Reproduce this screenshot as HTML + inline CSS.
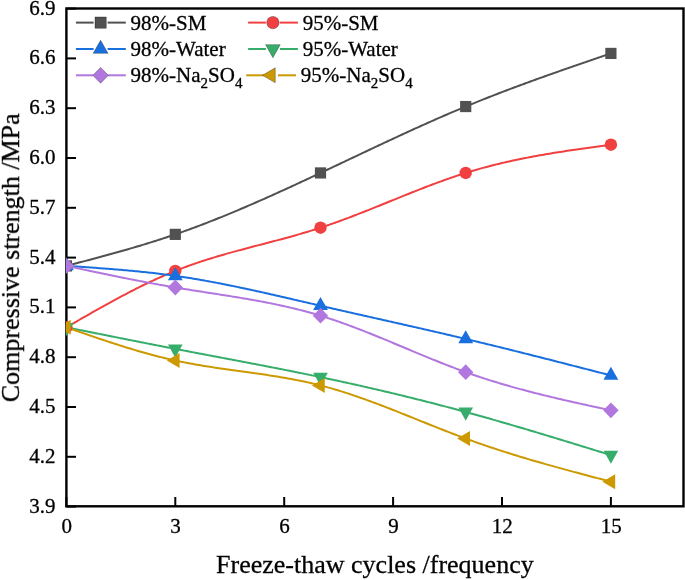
<!DOCTYPE html>
<html><head><meta charset="utf-8"><style>
html,body{margin:0;padding:0;background:#fff;width:685px;height:580px;overflow:hidden;font-family:"Liberation Serif",serif;}
svg{display:block}
</style></head><body>
<svg width="685" height="580" viewBox="0 0 685 580" style="will-change:transform">
<rect width="685" height="580" fill="#fff"/>
<defs><clipPath id="pc"><rect x="65.9" y="7.3" width="617.60" height="499.00"/></clipPath></defs>
<g stroke="#000" stroke-width="2">
<line x1="66.40" y1="506.60" x2="76.00" y2="506.60"/>
<line x1="66.40" y1="456.80" x2="76.00" y2="456.80"/>
<line x1="66.40" y1="407.00" x2="76.00" y2="407.00"/>
<line x1="66.40" y1="357.20" x2="76.00" y2="357.20"/>
<line x1="66.40" y1="307.40" x2="76.00" y2="307.40"/>
<line x1="66.40" y1="257.60" x2="76.00" y2="257.60"/>
<line x1="66.40" y1="207.80" x2="76.00" y2="207.80"/>
<line x1="66.40" y1="158.00" x2="76.00" y2="158.00"/>
<line x1="66.40" y1="108.20" x2="76.00" y2="108.20"/>
<line x1="66.40" y1="58.40" x2="76.00" y2="58.40"/>
<line x1="66.40" y1="8.60" x2="76.00" y2="8.60"/>
<line x1="66.40" y1="506.60" x2="66.40" y2="497.00"/>
<line x1="175.30" y1="506.60" x2="175.30" y2="497.00"/>
<line x1="284.20" y1="506.60" x2="284.20" y2="497.00"/>
<line x1="393.10" y1="506.60" x2="393.10" y2="497.00"/>
<line x1="502.00" y1="506.60" x2="502.00" y2="497.00"/>
<line x1="610.90" y1="506.60" x2="610.90" y2="497.00"/>
</g>
<rect x="66.4" y="8.5" width="617.10" height="497.80" fill="none" stroke="#000" stroke-width="2.4"/>
<g clip-path="url(#pc)">
<polyline points="66.40,265.90 68.22,265.42 70.03,264.95 71.84,264.47 73.66,264.00 75.48,263.52 77.29,263.04 79.11,262.56 80.92,262.09 82.74,261.61 84.55,261.13 86.37,260.65 88.18,260.16 90.00,259.68 91.81,259.20 93.62,258.71 95.44,258.23 97.26,257.74 99.07,257.25 100.89,256.76 102.70,256.27 104.52,255.78 106.33,255.28 108.15,254.79 109.96,254.29 111.78,253.79 113.59,253.28 115.41,252.78 117.22,252.27 119.04,251.76 120.85,251.25 122.67,250.73 124.48,250.22 126.30,249.70 128.11,249.18 129.93,248.65 131.74,248.12 133.56,247.59 135.37,247.06 137.19,246.52 139.00,245.98 140.81,245.43 142.63,244.89 144.44,244.34 146.26,243.78 148.07,243.22 149.89,242.66 151.70,242.10 153.52,241.53 155.34,240.95 157.15,240.38 158.97,239.79 160.78,239.21 162.60,238.62 164.41,238.02 166.22,237.43 168.04,236.82 169.86,236.21 171.67,235.60 173.49,234.98 175.30,234.36 177.12,233.73 178.93,233.10 180.75,232.46 182.56,231.82 184.38,231.17 186.19,230.52 188.00,229.87 189.82,229.20 191.63,228.54 193.45,227.87 195.27,227.19 197.08,226.52 198.90,225.83 200.71,225.14 202.53,224.45 204.34,223.76 206.16,223.06 207.97,222.35 209.78,221.65 211.60,220.93 213.41,220.22 215.23,219.50 217.05,218.77 218.86,218.05 220.67,217.31 222.49,216.58 224.31,215.84 226.12,215.10 227.94,214.35 229.75,213.61 231.56,212.85 233.38,212.10 235.19,211.34 237.01,210.58 238.82,209.81 240.64,209.04 242.46,208.27 244.27,207.50 246.09,206.72 247.90,205.94 249.72,205.16 251.53,204.37 253.34,203.58 255.16,202.79 256.98,202.00 258.79,201.20 260.61,200.40 262.42,199.60 264.24,198.79 266.05,197.99 267.87,197.18 269.68,196.37 271.50,195.55 273.31,194.74 275.12,193.92 276.94,193.10 278.75,192.28 280.57,191.45 282.38,190.63 284.20,189.80 286.01,188.97 287.83,188.14 289.64,187.31 291.46,186.47 293.27,185.64 295.09,184.80 296.90,183.96 298.72,183.12 300.53,182.28 302.35,181.43 304.17,180.59 305.98,179.74 307.79,178.90 309.61,178.05 311.42,177.20 313.24,176.35 315.06,175.50 316.87,174.65 318.69,173.79 320.50,172.94 322.31,172.09 324.13,171.23 325.95,170.37 327.76,169.52 329.57,168.66 331.39,167.80 333.21,166.95 335.02,166.09 336.84,165.23 338.65,164.37 340.47,163.51 342.28,162.65 344.10,161.79 345.91,160.93 347.73,160.07 349.54,159.21 351.36,158.35 353.17,157.50 354.99,156.64 356.80,155.78 358.62,154.92 360.43,154.06 362.25,153.20 364.06,152.34 365.88,151.49 367.69,150.63 369.50,149.77 371.32,148.92 373.13,148.06 374.95,147.21 376.76,146.36 378.58,145.50 380.39,144.65 382.21,143.80 384.02,142.95 385.84,142.10 387.65,141.26 389.47,140.41 391.28,139.56 393.10,138.72 394.91,137.88 396.73,137.04 398.54,136.20 400.36,135.36 402.17,134.52 403.99,133.68 405.80,132.85 407.62,132.02 409.44,131.19 411.25,130.36 413.07,129.53 414.88,128.70 416.69,127.88 418.51,127.06 420.32,126.24 422.14,125.42 423.96,124.61 425.77,123.79 427.59,122.98 429.40,122.17 431.22,121.37 433.03,120.56 434.85,119.76 436.66,118.96 438.48,118.16 440.29,117.37 442.11,116.58 443.92,115.79 445.74,115.00 447.55,114.22 449.37,113.44 451.18,112.66 453.00,111.88 454.81,111.11 456.62,110.34 458.44,109.57 460.25,108.81 462.07,108.05 463.88,107.29 465.70,106.54 467.51,105.79 469.33,105.04 471.14,104.30 472.96,103.56 474.77,102.82 476.59,102.09 478.40,101.35 480.22,100.63 482.03,99.90 483.85,99.18 485.66,98.46 487.48,97.74 489.29,97.03 491.11,96.32 492.92,95.61 494.74,94.90 496.56,94.20 498.37,93.50 500.19,92.80 502.00,92.11 503.81,91.41 505.63,90.72 507.44,90.03 509.26,89.35 511.07,88.66 512.89,87.98 514.71,87.30 516.52,86.63 518.34,85.95 520.15,85.28 521.97,84.61 523.78,83.94 525.60,83.27 527.41,82.61 529.23,81.95 531.04,81.29 532.86,80.63 534.67,79.97 536.49,79.31 538.30,78.66 540.12,78.01 541.93,77.36 543.75,76.71 545.56,76.06 547.38,75.41 549.19,74.77 551.00,74.13 552.82,73.49 554.63,72.84 556.45,72.21 558.26,71.57 560.08,70.93 561.89,70.30 563.71,69.66 565.52,69.03 567.34,68.40 569.15,67.76 570.97,67.13 572.78,66.50 574.60,65.88 576.41,65.25 578.23,64.62 580.04,63.99 581.86,63.37 583.67,62.74 585.49,62.12 587.30,61.50 589.12,60.87 590.93,60.25 592.75,59.63 594.56,59.01 596.38,58.38 598.19,57.76 600.01,57.14 601.82,56.52 603.64,55.90 605.46,55.28 607.27,54.66 609.08,54.04 610.90,53.42" fill="none" stroke="#515151" stroke-width="2.0" stroke-linejoin="round"/>
<polyline points="66.40,327.32 68.22,326.27 70.03,325.22 71.84,324.18 73.66,323.13 75.48,322.08 77.29,321.04 79.11,320.00 80.92,318.95 82.74,317.91 84.55,316.87 86.37,315.83 88.18,314.80 90.00,313.76 91.81,312.73 93.62,311.70 95.44,310.68 97.26,309.65 99.07,308.63 100.89,307.62 102.70,306.60 104.52,305.59 106.33,304.58 108.15,303.58 109.96,302.58 111.78,301.59 113.59,300.60 115.41,299.61 117.22,298.63 119.04,297.66 120.85,296.69 122.67,295.72 124.48,294.76 126.30,293.81 128.11,292.86 129.93,291.92 131.74,290.99 133.56,290.06 135.37,289.14 137.19,288.22 139.00,287.31 140.81,286.41 142.63,285.52 144.44,284.63 146.26,283.75 148.07,282.88 149.89,282.02 151.70,281.16 153.52,280.32 155.34,279.48 157.15,278.65 158.97,277.83 160.78,277.02 162.60,276.22 164.41,275.42 166.22,274.64 168.04,273.87 169.86,273.11 171.67,272.35 173.49,271.61 175.30,270.88 177.12,270.16 178.93,269.45 180.75,268.75 182.56,268.06 184.38,267.38 186.19,266.71 188.00,266.05 189.82,265.39 191.63,264.75 193.45,264.11 195.27,263.49 197.08,262.87 198.90,262.26 200.71,261.66 202.53,261.06 204.34,260.48 206.16,259.90 207.97,259.32 209.78,258.76 211.60,258.19 213.41,257.64 215.23,257.09 217.05,256.55 218.86,256.01 220.67,255.48 222.49,254.95 224.31,254.43 226.12,253.91 227.94,253.40 229.75,252.89 231.56,252.39 233.38,251.89 235.19,251.39 237.01,250.89 238.82,250.40 240.64,249.91 242.46,249.43 244.27,248.94 246.09,248.46 247.90,247.98 249.72,247.50 251.53,247.03 253.34,246.55 255.16,246.08 256.98,245.60 258.79,245.13 260.61,244.66 262.42,244.18 264.24,243.71 266.05,243.24 267.87,242.76 269.68,242.29 271.50,241.81 273.31,241.33 275.12,240.85 276.94,240.37 278.75,239.89 280.57,239.41 282.38,238.92 284.20,238.43 286.01,237.94 287.83,237.44 289.64,236.94 291.46,236.44 293.27,235.93 295.09,235.42 296.90,234.90 298.72,234.39 300.53,233.86 302.35,233.33 304.17,232.80 305.98,232.26 307.79,231.71 309.61,231.16 311.42,230.60 313.24,230.04 315.06,229.47 316.87,228.89 318.69,228.31 320.50,227.72 322.31,227.12 324.13,226.52 325.95,225.90 327.76,225.28 329.57,224.66 331.39,224.03 333.21,223.39 335.02,222.74 336.84,222.09 338.65,221.44 340.47,220.77 342.28,220.11 344.10,219.43 345.91,218.76 347.73,218.08 349.54,217.39 351.36,216.70 353.17,216.00 354.99,215.31 356.80,214.60 358.62,213.90 360.43,213.19 362.25,212.48 364.06,211.76 365.88,211.04 367.69,210.32 369.50,209.60 371.32,208.87 373.13,208.14 374.95,207.42 376.76,206.68 378.58,205.95 380.39,205.22 382.21,204.48 384.02,203.75 385.84,203.01 387.65,202.28 389.47,201.54 391.28,200.80 393.10,200.07 394.91,199.33 396.73,198.59 398.54,197.86 400.36,197.13 402.17,196.39 403.99,195.66 405.80,194.93 407.62,194.20 409.44,193.48 411.25,192.75 413.07,192.03 414.88,191.31 416.69,190.59 418.51,189.88 420.32,189.17 422.14,188.46 423.96,187.75 425.77,187.05 427.59,186.36 429.40,185.66 431.22,184.97 433.03,184.29 434.85,183.61 436.66,182.93 438.48,182.26 440.29,181.60 442.11,180.94 443.92,180.28 445.74,179.64 447.55,178.99 449.37,178.36 451.18,177.73 453.00,177.10 454.81,176.49 456.62,175.88 458.44,175.28 460.25,174.68 462.07,174.09 463.88,173.51 465.70,172.94 467.51,172.38 469.33,171.82 471.14,171.27 472.96,170.73 474.77,170.20 476.59,169.67 478.40,169.15 480.22,168.64 482.03,168.14 483.85,167.64 485.66,167.16 487.48,166.67 489.29,166.20 491.11,165.73 492.92,165.27 494.74,164.81 496.56,164.36 498.37,163.92 500.19,163.49 502.00,163.06 503.81,162.63 505.63,162.22 507.44,161.80 509.26,161.40 511.07,161.00 512.89,160.60 514.71,160.21 516.52,159.83 518.34,159.45 520.15,159.07 521.97,158.71 523.78,158.34 525.60,157.98 527.41,157.63 529.23,157.28 531.04,156.93 532.86,156.59 534.67,156.26 536.49,155.93 538.30,155.60 540.12,155.27 541.93,154.95 543.75,154.64 545.56,154.33 547.38,154.02 549.19,153.71 551.00,153.41 552.82,153.11 554.63,152.82 556.45,152.52 558.26,152.24 560.08,151.95 561.89,151.67 563.71,151.39 565.52,151.11 567.34,150.83 569.15,150.56 570.97,150.29 572.78,150.02 574.60,149.75 576.41,149.49 578.23,149.23 580.04,148.97 581.86,148.71 583.67,148.45 585.49,148.20 587.30,147.94 589.12,147.69 590.93,147.44 592.75,147.19 594.56,146.94 596.38,146.69 598.19,146.44 600.01,146.19 601.82,145.95 603.64,145.70 605.46,145.46 607.27,145.21 609.08,144.97 610.90,144.72" fill="none" stroke="#F14040" stroke-width="2.0" stroke-linejoin="round"/>
<polyline points="66.40,265.90 68.22,266.02 70.03,266.14 71.84,266.26 73.66,266.38 75.48,266.50 77.29,266.62 79.11,266.74 80.92,266.86 82.74,266.99 84.55,267.11 86.37,267.23 88.18,267.36 90.00,267.49 91.81,267.61 93.62,267.74 95.44,267.87 97.26,268.00 99.07,268.13 100.89,268.26 102.70,268.40 104.52,268.53 106.33,268.67 108.15,268.81 109.96,268.95 111.78,269.10 113.59,269.24 115.41,269.39 117.22,269.54 119.04,269.69 120.85,269.84 122.67,270.00 124.48,270.15 126.30,270.31 128.11,270.48 129.93,270.64 131.74,270.81 133.56,270.98 135.37,271.16 137.19,271.33 139.00,271.51 140.81,271.70 142.63,271.88 144.44,272.07 146.26,272.26 148.07,272.46 149.89,272.66 151.70,272.86 153.52,273.07 155.34,273.28 157.15,273.49 158.97,273.71 160.78,273.93 162.60,274.16 164.41,274.39 166.22,274.62 168.04,274.86 169.86,275.11 171.67,275.35 173.49,275.60 175.30,275.86 177.12,276.12 178.93,276.39 180.75,276.66 182.56,276.93 184.38,277.21 186.19,277.49 188.00,277.78 189.82,278.07 191.63,278.36 193.45,278.66 195.27,278.97 197.08,279.27 198.90,279.59 200.71,279.90 202.53,280.22 204.34,280.54 206.16,280.87 207.97,281.20 209.78,281.53 211.60,281.87 213.41,282.20 215.23,282.55 217.05,282.89 218.86,283.24 220.67,283.59 222.49,283.95 224.31,284.31 226.12,284.67 227.94,285.03 229.75,285.40 231.56,285.77 233.38,286.14 235.19,286.51 237.01,286.89 238.82,287.27 240.64,287.65 242.46,288.03 244.27,288.42 246.09,288.81 247.90,289.20 249.72,289.59 251.53,289.98 253.34,290.38 255.16,290.77 256.98,291.17 258.79,291.57 260.61,291.98 262.42,292.38 264.24,292.79 266.05,293.19 267.87,293.60 269.68,294.01 271.50,294.42 273.31,294.84 275.12,295.25 276.94,295.66 278.75,296.08 280.57,296.49 282.38,296.91 284.20,297.33 286.01,297.75 287.83,298.17 289.64,298.58 291.46,299.00 293.27,299.43 295.09,299.85 296.90,300.27 298.72,300.69 300.53,301.11 302.35,301.53 304.17,301.95 305.98,302.38 307.79,302.80 309.61,303.22 311.42,303.64 313.24,304.06 315.06,304.48 316.87,304.90 318.69,305.32 320.50,305.74 322.31,306.16 324.13,306.58 325.95,306.99 327.76,307.41 329.57,307.83 331.39,308.24 333.21,308.66 335.02,309.07 336.84,309.49 338.65,309.90 340.47,310.31 342.28,310.73 344.10,311.14 345.91,311.55 347.73,311.96 349.54,312.38 351.36,312.79 353.17,313.20 354.99,313.61 356.80,314.02 358.62,314.43 360.43,314.84 362.25,315.25 364.06,315.66 365.88,316.07 367.69,316.48 369.50,316.89 371.32,317.30 373.13,317.71 374.95,318.12 376.76,318.53 378.58,318.94 380.39,319.35 382.21,319.75 384.02,320.16 385.84,320.57 387.65,320.98 389.47,321.39 391.28,321.80 393.10,322.21 394.91,322.62 396.73,323.03 398.54,323.44 400.36,323.85 402.17,324.26 403.99,324.67 405.80,325.09 407.62,325.50 409.44,325.91 411.25,326.32 413.07,326.73 414.88,327.15 416.69,327.56 418.51,327.97 420.32,328.39 422.14,328.80 423.96,329.22 425.77,329.63 427.59,330.05 429.40,330.47 431.22,330.88 433.03,331.30 434.85,331.72 436.66,332.14 438.48,332.56 440.29,332.98 442.11,333.40 443.92,333.82 445.74,334.24 447.55,334.67 449.37,335.09 451.18,335.51 453.00,335.94 454.81,336.37 456.62,336.79 458.44,337.22 460.25,337.65 462.07,338.08 463.88,338.51 465.70,338.94 467.51,339.37 469.33,339.81 471.14,340.24 472.96,340.67 474.77,341.11 476.59,341.55 478.40,341.98 480.22,342.42 482.03,342.86 483.85,343.30 485.66,343.74 487.48,344.18 489.29,344.63 491.11,345.07 492.92,345.51 494.74,345.96 496.56,346.40 498.37,346.85 500.19,347.30 502.00,347.74 503.81,348.19 505.63,348.64 507.44,349.09 509.26,349.54 511.07,349.99 512.89,350.44 514.71,350.90 516.52,351.35 518.34,351.80 520.15,352.26 521.97,352.71 523.78,353.17 525.60,353.62 527.41,354.08 529.23,354.54 531.04,354.99 532.86,355.45 534.67,355.91 536.49,356.37 538.30,356.83 540.12,357.29 541.93,357.75 543.75,358.21 545.56,358.67 547.38,359.13 549.19,359.59 551.00,360.06 552.82,360.52 554.63,360.98 556.45,361.45 558.26,361.91 560.08,362.37 561.89,362.84 563.71,363.30 565.52,363.77 567.34,364.23 569.15,364.70 570.97,365.16 572.78,365.63 574.60,366.10 576.41,366.56 578.23,367.03 580.04,367.50 581.86,367.97 583.67,368.43 585.49,368.90 587.30,369.37 589.12,369.84 590.93,370.30 592.75,370.77 594.56,371.24 596.38,371.71 598.19,372.18 600.01,372.65 601.82,373.12 603.64,373.58 605.46,374.05 607.27,374.52 609.08,374.99 610.90,375.46" fill="none" stroke="#1A6FDF" stroke-width="2.0" stroke-linejoin="round"/>
<polyline points="66.40,327.32 68.22,327.68 70.03,328.05 71.84,328.41 73.66,328.78 75.48,329.14 77.29,329.51 79.11,329.87 80.92,330.24 82.74,330.60 84.55,330.97 86.37,331.33 88.18,331.70 90.00,332.06 91.81,332.42 93.62,332.79 95.44,333.15 97.26,333.51 99.07,333.88 100.89,334.24 102.70,334.60 104.52,334.97 106.33,335.33 108.15,335.69 109.96,336.06 111.78,336.42 113.59,336.78 115.41,337.14 117.22,337.50 119.04,337.86 120.85,338.23 122.67,338.59 124.48,338.95 126.30,339.31 128.11,339.67 129.93,340.03 131.74,340.39 133.56,340.75 135.37,341.10 137.19,341.46 139.00,341.82 140.81,342.18 142.63,342.54 144.44,342.89 146.26,343.25 148.07,343.61 149.89,343.96 151.70,344.32 153.52,344.67 155.34,345.03 157.15,345.38 158.97,345.74 160.78,346.09 162.60,346.44 164.41,346.79 166.22,347.15 168.04,347.50 169.86,347.85 171.67,348.20 173.49,348.55 175.30,348.90 177.12,349.25 178.93,349.60 180.75,349.95 182.56,350.29 184.38,350.64 186.19,350.99 188.00,351.33 189.82,351.68 191.63,352.03 193.45,352.37 195.27,352.72 197.08,353.06 198.90,353.41 200.71,353.75 202.53,354.10 204.34,354.44 206.16,354.78 207.97,355.13 209.78,355.47 211.60,355.82 213.41,356.16 215.23,356.50 217.05,356.85 218.86,357.19 220.67,357.53 222.49,357.88 224.31,358.22 226.12,358.56 227.94,358.91 229.75,359.25 231.56,359.60 233.38,359.94 235.19,360.28 237.01,360.63 238.82,360.97 240.64,361.32 242.46,361.67 244.27,362.01 246.09,362.36 247.90,362.70 249.72,363.05 251.53,363.40 253.34,363.75 255.16,364.09 256.98,364.44 258.79,364.79 260.61,365.14 262.42,365.49 264.24,365.84 266.05,366.19 267.87,366.55 269.68,366.90 271.50,367.25 273.31,367.61 275.12,367.96 276.94,368.32 278.75,368.67 280.57,369.03 282.38,369.39 284.20,369.75 286.01,370.11 287.83,370.47 289.64,370.83 291.46,371.19 293.27,371.55 295.09,371.92 296.90,372.28 298.72,372.65 300.53,373.01 302.35,373.38 304.17,373.75 305.98,374.12 307.79,374.49 309.61,374.86 311.42,375.24 313.24,375.61 315.06,375.99 316.87,376.36 318.69,376.74 320.50,377.12 322.31,377.50 324.13,377.88 325.95,378.27 327.76,378.65 329.57,379.04 331.39,379.42 333.21,379.81 335.02,380.20 336.84,380.59 338.65,380.98 340.47,381.38 342.28,381.77 344.10,382.17 345.91,382.57 347.73,382.97 349.54,383.37 351.36,383.77 353.17,384.17 354.99,384.58 356.80,384.98 358.62,385.39 360.43,385.80 362.25,386.21 364.06,386.62 365.88,387.03 367.69,387.44 369.50,387.86 371.32,388.28 373.13,388.69 374.95,389.11 376.76,389.54 378.58,389.96 380.39,390.38 382.21,390.81 384.02,391.23 385.84,391.66 387.65,392.09 389.47,392.52 391.28,392.95 393.10,393.39 394.91,393.82 396.73,394.26 398.54,394.70 400.36,395.14 402.17,395.58 403.99,396.02 405.80,396.47 407.62,396.91 409.44,397.36 411.25,397.81 413.07,398.26 414.88,398.71 416.69,399.16 418.51,399.62 420.32,400.07 422.14,400.53 423.96,400.99 425.77,401.45 427.59,401.91 429.40,402.38 431.22,402.84 433.03,403.31 434.85,403.78 436.66,404.25 438.48,404.72 440.29,405.19 442.11,405.67 443.92,406.14 445.74,406.62 447.55,407.10 449.37,407.58 451.18,408.06 453.00,408.55 454.81,409.03 456.62,409.52 458.44,410.01 460.25,410.50 462.07,410.99 463.88,411.48 465.70,411.98 467.51,412.48 469.33,412.98 471.14,413.48 472.96,413.98 474.77,414.48 476.59,414.99 478.40,415.49 480.22,416.00 482.03,416.51 483.85,417.02 485.66,417.53 487.48,418.04 489.29,418.56 491.11,419.08 492.92,419.59 494.74,420.11 496.56,420.63 498.37,421.15 500.19,421.68 502.00,422.20 503.81,422.73 505.63,423.25 507.44,423.78 509.26,424.31 511.07,424.84 512.89,425.37 514.71,425.90 516.52,426.44 518.34,426.97 520.15,427.50 521.97,428.04 523.78,428.58 525.60,429.12 527.41,429.66 529.23,430.20 531.04,430.74 532.86,431.28 534.67,431.82 536.49,432.37 538.30,432.91 540.12,433.46 541.93,434.00 543.75,434.55 545.56,435.10 547.38,435.64 549.19,436.19 551.00,436.74 552.82,437.29 554.63,437.84 556.45,438.40 558.26,438.95 560.08,439.50 561.89,440.05 563.71,440.61 565.52,441.16 567.34,441.72 569.15,442.27 570.97,442.83 572.78,443.39 574.60,443.94 576.41,444.50 578.23,445.06 580.04,445.62 581.86,446.18 583.67,446.73 585.49,447.29 587.30,447.85 589.12,448.41 590.93,448.97 592.75,449.53 594.56,450.09 596.38,450.65 598.19,451.21 600.01,451.77 601.82,452.33 603.64,452.90 605.46,453.46 607.27,454.02 609.08,454.58 610.90,455.14" fill="none" stroke="#37AD6B" stroke-width="2.0" stroke-linejoin="round"/>
<polyline points="66.40,265.90 68.22,266.29 70.03,266.67 71.84,267.06 73.66,267.45 75.48,267.83 77.29,268.22 79.11,268.60 80.92,268.99 82.74,269.37 84.55,269.76 86.37,270.14 88.18,270.53 90.00,270.91 91.81,271.29 93.62,271.67 95.44,272.06 97.26,272.44 99.07,272.82 100.89,273.19 102.70,273.57 104.52,273.95 106.33,274.33 108.15,274.70 109.96,275.08 111.78,275.45 113.59,275.82 115.41,276.19 117.22,276.56 119.04,276.93 120.85,277.30 122.67,277.66 124.48,278.03 126.30,278.39 128.11,278.75 129.93,279.11 131.74,279.47 133.56,279.83 135.37,280.18 137.19,280.53 139.00,280.89 140.81,281.24 142.63,281.58 144.44,281.93 146.26,282.27 148.07,282.62 149.89,282.96 151.70,283.29 153.52,283.63 155.34,283.96 157.15,284.30 158.97,284.62 160.78,284.95 162.60,285.28 164.41,285.60 166.22,285.92 168.04,286.24 169.86,286.55 171.67,286.86 173.49,287.17 175.30,287.48 177.12,287.78 178.93,288.09 180.75,288.39 182.56,288.68 184.38,288.98 186.19,289.27 188.00,289.56 189.82,289.85 191.63,290.14 193.45,290.43 195.27,290.71 197.08,291.00 198.90,291.28 200.71,291.56 202.53,291.84 204.34,292.13 206.16,292.41 207.97,292.69 209.78,292.97 211.60,293.25 213.41,293.53 215.23,293.81 217.05,294.09 218.86,294.38 220.67,294.66 222.49,294.94 224.31,295.23 226.12,295.52 227.94,295.80 229.75,296.09 231.56,296.38 233.38,296.68 235.19,296.97 237.01,297.27 238.82,297.57 240.64,297.87 242.46,298.17 244.27,298.48 246.09,298.79 247.90,299.10 249.72,299.42 251.53,299.74 253.34,300.06 255.16,300.38 256.98,300.71 258.79,301.05 260.61,301.38 262.42,301.73 264.24,302.07 266.05,302.42 267.87,302.78 269.68,303.14 271.50,303.50 273.31,303.87 275.12,304.24 276.94,304.62 278.75,305.01 280.57,305.40 282.38,305.80 284.20,306.20 286.01,306.61 287.83,307.02 289.64,307.44 291.46,307.87 293.27,308.30 295.09,308.74 296.90,309.19 298.72,309.65 300.53,310.11 302.35,310.58 304.17,311.05 305.98,311.54 307.79,312.03 309.61,312.53 311.42,313.04 313.24,313.55 315.06,314.08 316.87,314.61 318.69,315.15 320.50,315.70 322.31,316.26 324.13,316.83 325.95,317.40 327.76,317.99 329.57,318.58 331.39,319.18 333.21,319.79 335.02,320.41 336.84,321.03 338.65,321.66 340.47,322.30 342.28,322.94 344.10,323.59 345.91,324.25 347.73,324.91 349.54,325.58 351.36,326.26 353.17,326.94 354.99,327.63 356.80,328.32 358.62,329.01 360.43,329.72 362.25,330.42 364.06,331.13 365.88,331.85 367.69,332.57 369.50,333.29 371.32,334.02 373.13,334.75 374.95,335.48 376.76,336.22 378.58,336.96 380.39,337.70 382.21,338.44 384.02,339.19 385.84,339.94 387.65,340.69 389.47,341.45 391.28,342.20 393.10,342.96 394.91,343.71 396.73,344.47 398.54,345.23 400.36,345.99 402.17,346.75 403.99,347.51 405.80,348.27 407.62,349.03 409.44,349.79 411.25,350.55 413.07,351.31 414.88,352.07 416.69,352.83 418.51,353.58 420.32,354.34 422.14,355.09 423.96,355.84 425.77,356.59 427.59,357.34 429.40,358.08 431.22,358.82 433.03,359.56 434.85,360.29 436.66,361.03 438.48,361.75 440.29,362.48 442.11,363.20 443.92,363.92 445.74,364.63 447.55,365.34 449.37,366.04 451.18,366.74 453.00,367.44 454.81,368.12 456.62,368.81 458.44,369.49 460.25,370.16 462.07,370.83 463.88,371.49 465.70,372.14 467.51,372.79 469.33,373.43 471.14,374.06 472.96,374.69 474.77,375.31 476.59,375.93 478.40,376.54 480.22,377.15 482.03,377.74 483.85,378.34 485.66,378.92 487.48,379.50 489.29,380.08 491.11,380.65 492.92,381.22 494.74,381.78 496.56,382.33 498.37,382.88 500.19,383.42 502.00,383.96 503.81,384.50 505.63,385.03 507.44,385.55 509.26,386.07 511.07,386.59 512.89,387.10 514.71,387.61 516.52,388.11 518.34,388.61 520.15,389.10 521.97,389.59 523.78,390.08 525.60,390.56 527.41,391.04 529.23,391.51 531.04,391.98 532.86,392.45 534.67,392.92 536.49,393.38 538.30,393.83 540.12,394.29 541.93,394.74 543.75,395.19 545.56,395.63 547.38,396.07 549.19,396.51 551.00,396.95 552.82,397.38 554.63,397.81 556.45,398.24 558.26,398.67 560.08,399.09 561.89,399.51 563.71,399.93 565.52,400.35 567.34,400.76 569.15,401.17 570.97,401.59 572.78,401.99 574.60,402.40 576.41,402.81 578.23,403.21 580.04,403.62 581.86,404.02 583.67,404.42 585.49,404.82 587.30,405.21 589.12,405.61 590.93,406.01 592.75,406.40 594.56,406.80 596.38,407.19 598.19,407.58 600.01,407.97 601.82,408.37 603.64,408.76 605.46,409.15 607.27,409.54 609.08,409.93 610.90,410.32" fill="none" stroke="#B177DE" stroke-width="2.0" stroke-linejoin="round"/>
<polyline points="66.40,327.32 68.22,327.95 70.03,328.59 71.84,329.22 73.66,329.85 75.48,330.48 77.29,331.11 79.11,331.75 80.92,332.37 82.74,333.00 84.55,333.63 86.37,334.26 88.18,334.88 90.00,335.50 91.81,336.12 93.62,336.74 95.44,337.36 97.26,337.98 99.07,338.59 100.89,339.20 102.70,339.81 104.52,340.41 106.33,341.01 108.15,341.61 109.96,342.21 111.78,342.80 113.59,343.39 115.41,343.98 117.22,344.56 119.04,345.14 120.85,345.72 122.67,346.29 124.48,346.86 126.30,347.42 128.11,347.98 129.93,348.53 131.74,349.08 133.56,349.63 135.37,350.16 137.19,350.70 139.00,351.23 140.81,351.75 142.63,352.27 144.44,352.78 146.26,353.29 148.07,353.79 149.89,354.29 151.70,354.78 153.52,355.26 155.34,355.74 157.15,356.21 158.97,356.67 160.78,357.13 162.60,357.58 164.41,358.02 166.22,358.46 168.04,358.88 169.86,359.30 171.67,359.72 173.49,360.12 175.30,360.52 177.12,360.91 178.93,361.29 180.75,361.67 182.56,362.03 184.38,362.39 186.19,362.75 188.00,363.09 189.82,363.43 191.63,363.77 193.45,364.09 195.27,364.41 197.08,364.73 198.90,365.04 200.71,365.35 202.53,365.65 204.34,365.95 206.16,366.24 207.97,366.53 209.78,366.81 211.60,367.09 213.41,367.37 215.23,367.64 217.05,367.91 218.86,368.18 220.67,368.44 222.49,368.70 224.31,368.96 226.12,369.22 227.94,369.48 229.75,369.73 231.56,369.99 233.38,370.24 235.19,370.49 237.01,370.74 238.82,370.99 240.64,371.24 242.46,371.49 244.27,371.74 246.09,371.99 247.90,372.24 249.72,372.50 251.53,372.75 253.34,373.00 255.16,373.26 256.98,373.52 258.79,373.78 260.61,374.04 262.42,374.31 264.24,374.57 266.05,374.84 267.87,375.12 269.68,375.40 271.50,375.68 273.31,375.96 275.12,376.25 276.94,376.54 278.75,376.84 280.57,377.14 282.38,377.45 284.20,377.76 286.01,378.08 287.83,378.40 289.64,378.73 291.46,379.06 293.27,379.40 295.09,379.75 296.90,380.11 298.72,380.47 300.53,380.84 302.35,381.21 304.17,381.59 305.98,381.98 307.79,382.38 309.61,382.79 311.42,383.21 313.24,383.63 315.06,384.06 316.87,384.51 318.69,384.96 320.50,385.42 322.31,385.89 324.13,386.37 325.95,386.86 327.76,387.36 329.57,387.87 331.39,388.39 333.21,388.91 335.02,389.45 336.84,389.99 338.65,390.54 340.47,391.10 342.28,391.67 344.10,392.24 345.91,392.83 347.73,393.41 349.54,394.01 351.36,394.61 353.17,395.22 354.99,395.84 356.80,396.46 358.62,397.09 360.43,397.73 362.25,398.37 364.06,399.01 365.88,399.67 367.69,400.32 369.50,400.99 371.32,401.65 373.13,402.32 374.95,403.00 376.76,403.68 378.58,404.37 380.39,405.05 382.21,405.75 384.02,406.44 385.84,407.14 387.65,407.85 389.47,408.55 391.28,409.26 393.10,409.97 394.91,410.69 396.73,411.40 398.54,412.12 400.36,412.84 402.17,413.56 403.99,414.29 405.80,415.01 407.62,415.74 409.44,416.46 411.25,417.19 413.07,417.92 414.88,418.65 416.69,419.38 418.51,420.11 420.32,420.84 422.14,421.57 423.96,422.30 425.77,423.03 427.59,423.76 429.40,424.48 431.22,425.21 433.03,425.93 434.85,426.66 436.66,427.38 438.48,428.10 440.29,428.81 442.11,429.53 443.92,430.24 445.74,430.95 447.55,431.66 449.37,432.36 451.18,433.07 453.00,433.76 454.81,434.46 456.62,435.15 458.44,435.84 460.25,436.52 462.07,437.20 463.88,437.87 465.70,438.54 467.51,439.20 469.33,439.86 471.14,440.52 472.96,441.17 474.77,441.82 476.59,442.46 478.40,443.10 480.22,443.73 482.03,444.36 483.85,444.98 485.66,445.60 487.48,446.22 489.29,446.83 491.11,447.44 492.92,448.04 494.74,448.64 496.56,449.24 498.37,449.83 500.19,450.42 502.00,451.01 503.81,451.59 505.63,452.16 507.44,452.74 509.26,453.31 511.07,453.88 512.89,454.44 514.71,455.00 516.52,455.56 518.34,456.12 520.15,456.67 521.97,457.22 523.78,457.76 525.60,458.31 527.41,458.85 529.23,459.39 531.04,459.92 532.86,460.45 534.67,460.98 536.49,461.51 538.30,462.03 540.12,462.56 541.93,463.08 543.75,463.59 545.56,464.11 547.38,464.62 549.19,465.13 551.00,465.64 552.82,466.15 554.63,466.66 556.45,467.16 558.26,467.66 560.08,468.16 561.89,468.66 563.71,469.16 565.52,469.65 567.34,470.15 569.15,470.64 570.97,471.13 572.78,471.62 574.60,472.11 576.41,472.59 578.23,473.08 580.04,473.56 581.86,474.05 583.67,474.53 585.49,475.01 587.30,475.49 589.12,475.97 590.93,476.45 592.75,476.93 594.56,477.41 596.38,477.89 598.19,478.37 600.01,478.84 601.82,479.32 603.64,479.80 605.46,480.27 607.27,480.75 609.08,481.22 610.90,481.70" fill="none" stroke="#CC9900" stroke-width="2.0" stroke-linejoin="round"/>
<rect x="60.80" y="260.30" width="11.2" height="11.2" fill="#515151"/>
<rect x="169.70" y="228.76" width="11.2" height="11.2" fill="#515151"/>
<rect x="314.90" y="167.34" width="11.2" height="11.2" fill="#515151"/>
<rect x="460.10" y="100.94" width="11.2" height="11.2" fill="#515151"/>
<rect x="605.30" y="47.82" width="11.2" height="11.2" fill="#515151"/>
<circle cx="66.40" cy="327.32" r="6.2" fill="#F14040"/>
<circle cx="175.30" cy="270.88" r="6.2" fill="#F14040"/>
<circle cx="320.50" cy="227.72" r="6.2" fill="#F14040"/>
<circle cx="465.70" cy="172.94" r="6.2" fill="#F14040"/>
<circle cx="610.90" cy="144.72" r="6.2" fill="#F14040"/>
<path d="M66.40 257.17L73.80 270.27L59.00 270.27Z" fill="#1A6FDF"/>
<path d="M175.30 267.13L182.70 280.23L167.90 280.23Z" fill="#1A6FDF"/>
<path d="M320.50 297.01L327.90 310.11L313.10 310.11Z" fill="#1A6FDF"/>
<path d="M465.70 330.21L473.10 343.31L458.30 343.31Z" fill="#1A6FDF"/>
<path d="M610.90 366.73L618.30 379.83L603.50 379.83Z" fill="#1A6FDF"/>
<path d="M66.40 336.05L73.70 322.95L59.10 322.95Z" fill="#37AD6B"/>
<path d="M175.30 357.63L182.60 344.53L168.00 344.53Z" fill="#37AD6B"/>
<path d="M320.50 385.85L327.80 372.75L313.20 372.75Z" fill="#37AD6B"/>
<path d="M465.70 420.71L473.00 407.61L458.40 407.61Z" fill="#37AD6B"/>
<path d="M610.90 463.87L618.20 450.77L603.60 450.77Z" fill="#37AD6B"/>
<path d="M66.40 258.00L74.10 265.90L66.40 273.80L58.70 265.90Z" fill="#B177DE"/>
<path d="M175.30 279.58L183.00 287.48L175.30 295.38L167.60 287.48Z" fill="#B177DE"/>
<path d="M320.50 307.80L328.20 315.70L320.50 323.60L312.80 315.70Z" fill="#B177DE"/>
<path d="M465.70 364.24L473.40 372.14L465.70 380.04L458.00 372.14Z" fill="#B177DE"/>
<path d="M610.90 402.42L618.60 410.32L610.90 418.22L603.20 410.32Z" fill="#B177DE"/>
<path d="M57.87 327.32L70.67 319.82L70.67 334.82Z" fill="#CC9900"/>
<path d="M166.77 360.52L179.57 353.02L179.57 368.02Z" fill="#CC9900"/>
<path d="M311.97 385.42L324.77 377.92L324.77 392.92Z" fill="#CC9900"/>
<path d="M457.17 438.54L469.97 431.04L469.97 446.04Z" fill="#CC9900"/>
<path d="M602.37 481.70L615.17 474.20L615.17 489.20Z" fill="#CC9900"/>
</g>
<g font-family="Liberation Serif, serif" font-size="21" fill="#000" stroke="#000" stroke-width="0.3" opacity="0.999">
<text x="55.6" y="512.50" text-anchor="end">3.9</text>
<text x="55.6" y="462.70" text-anchor="end">4.2</text>
<text x="55.6" y="412.90" text-anchor="end">4.5</text>
<text x="55.6" y="363.10" text-anchor="end">4.8</text>
<text x="55.6" y="313.30" text-anchor="end">5.1</text>
<text x="55.6" y="263.50" text-anchor="end">5.4</text>
<text x="55.6" y="213.70" text-anchor="end">5.7</text>
<text x="55.6" y="163.90" text-anchor="end">6.0</text>
<text x="55.6" y="114.10" text-anchor="end">6.3</text>
<text x="55.6" y="64.30" text-anchor="end">6.6</text>
<text x="55.6" y="14.50" text-anchor="end">6.9</text>
<text x="66.70" y="533.3" text-anchor="middle">0</text>
<text x="175.60" y="533.3" text-anchor="middle">3</text>
<text x="284.50" y="533.3" text-anchor="middle">6</text>
<text x="393.40" y="533.3" text-anchor="middle">9</text>
<text x="502.30" y="533.3" text-anchor="middle">12</text>
<text x="611.20" y="533.3" text-anchor="middle">15</text>
<line x1="75.9" y1="22.6" x2="93.6" y2="22.6" stroke="#515151" stroke-width="2.0"/>
<line x1="107.6" y1="22.6" x2="125.8" y2="22.6" stroke="#515151" stroke-width="2.0"/>
<rect x="95.00" y="17.00" width="11.2" height="11.2" fill="#515151"/>
<text x="130.6" y="29.60">98%-SM</text>
<line x1="75.9" y1="49.0" x2="93.6" y2="49.0" stroke="#1A6FDF" stroke-width="2.0"/>
<line x1="107.6" y1="49.0" x2="125.8" y2="49.0" stroke="#1A6FDF" stroke-width="2.0"/>
<path d="M100.60 40.27L108.00 53.37L93.20 53.37Z" fill="#1A6FDF"/>
<text x="130.6" y="56.00">98%-Water</text>
<line x1="75.9" y1="75.3" x2="93.6" y2="75.3" stroke="#B177DE" stroke-width="2.0"/>
<line x1="107.6" y1="75.3" x2="125.8" y2="75.3" stroke="#B177DE" stroke-width="2.0"/>
<path d="M100.60 67.40L108.30 75.30L100.60 83.20L92.90 75.30Z" fill="#B177DE"/>
<text x="130.6" y="82.30">98%-Na<tspan font-size="15" dy="5.8">2</tspan><tspan dy="-5.8">SO</tspan><tspan font-size="15" dy="5.8">4</tspan></text>
<line x1="248.1" y1="22.6" x2="265.9" y2="22.6" stroke="#F14040" stroke-width="2.0"/>
<line x1="279.9" y1="22.6" x2="297.9" y2="22.6" stroke="#F14040" stroke-width="2.0"/>
<circle cx="272.90" cy="22.60" r="6.2" fill="#F14040"/>
<text x="302.7" y="29.60">95%-SM</text>
<line x1="248.1" y1="49.0" x2="265.9" y2="49.0" stroke="#37AD6B" stroke-width="2.0"/>
<line x1="279.9" y1="49.0" x2="297.9" y2="49.0" stroke="#37AD6B" stroke-width="2.0"/>
<path d="M272.90 57.73L280.20 44.63L265.60 44.63Z" fill="#37AD6B"/>
<text x="302.7" y="56.00">95%-Water</text>
<line x1="246.2" y1="75.3" x2="264.0" y2="75.3" stroke="#CC9900" stroke-width="2.0"/>
<line x1="278.0" y1="75.3" x2="296.0" y2="75.3" stroke="#CC9900" stroke-width="2.0"/>
<path d="M262.47 75.30L275.27 67.80L275.27 82.80Z" fill="#CC9900"/>
<text x="300.8" y="82.30">95%-Na<tspan font-size="15" dy="5.8">2</tspan><tspan dy="-5.8">SO</tspan><tspan font-size="15" dy="5.8">4</tspan></text>
</g>
<g font-family="Liberation Serif, serif" font-size="26" fill="#000" stroke="#000" stroke-width="0.3" opacity="0.999">
<text x="216.1" y="573.3">Freeze-thaw cycles /frequency</text>
<text transform="translate(19.0,402.2) rotate(-90)">Compressive strength /MPa</text>
</g>
</svg>
</body></html>
